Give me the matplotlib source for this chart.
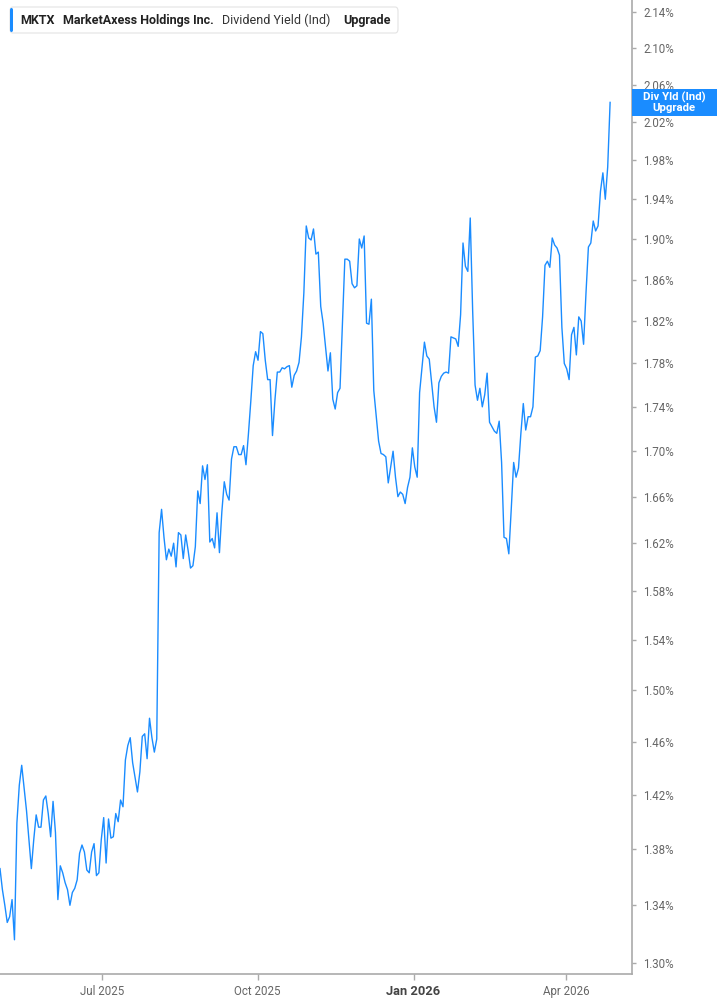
import matplotlib
matplotlib.use("Agg")
import matplotlib.pyplot as plt
import matplotlib.dates as mdates
from matplotlib.ticker import FixedLocator, FuncFormatter, NullLocator
from matplotlib.patches import Rectangle, FancyBboxPatch
from matplotlib.transforms import IdentityTransform
import pandas as pd

# ---------------- data ----------------
start_date = "2025-05-02"
end_date = "2026-04-27"
yield_pct = [
    1.366, 1.351, 1.340, 1.328, 1.332, 1.344, 1.316, 1.399, 1.427, 1.442,
    1.425, 1.408, 1.387, 1.366, 1.387, 1.405, 1.396, 1.396, 1.416, 1.419,
    1.406, 1.389, 1.415, 1.392, 1.344, 1.368, 1.363, 1.356, 1.351, 1.340,
    1.349, 1.352, 1.358, 1.377, 1.383, 1.378, 1.365, 1.363, 1.378, 1.384,
    1.361, 1.363, 1.387, 1.403, 1.370, 1.402, 1.388, 1.389, 1.406, 1.400,
    1.416, 1.411, 1.446, 1.457, 1.463, 1.444, 1.433, 1.422, 1.437, 1.464,
    1.466, 1.447, 1.478, 1.463, 1.452, 1.462, 1.629, 1.649, 1.625, 1.606,
    1.615, 1.609, 1.620, 1.600, 1.629, 1.627, 1.607, 1.627, 1.614, 1.599,
    1.601, 1.617, 1.665, 1.654, 1.687, 1.675, 1.688, 1.621, 1.624, 1.616,
    1.646, 1.612, 1.647, 1.673, 1.662, 1.657, 1.693, 1.704, 1.704, 1.697,
    1.697, 1.705, 1.688, 1.715, 1.745, 1.778, 1.791, 1.783, 1.810, 1.808,
    1.783, 1.765, 1.765, 1.714, 1.746, 1.772, 1.772, 1.776, 1.775, 1.777,
    1.778, 1.758, 1.769, 1.773, 1.781, 1.805, 1.847, 1.913, 1.901, 1.899,
    1.910, 1.885, 1.887, 1.834, 1.818, 1.795, 1.773, 1.790, 1.747, 1.738,
    1.753, 1.757, 1.818, 1.880, 1.880, 1.878, 1.856, 1.852, 1.854, 1.900,
    1.891, 1.903, 1.818, 1.817, 1.841, 1.755, 1.732, 1.709, 1.698, 1.697,
    1.695, 1.672, 1.686, 1.700, 1.677, 1.660, 1.664, 1.662, 1.654, 1.668,
    1.677, 1.703, 1.686, 1.677, 1.753, 1.776, 1.800, 1.787, 1.784, 1.762,
    1.740, 1.726, 1.762, 1.768, 1.771, 1.772, 1.771, 1.805, 1.804, 1.803,
    1.796, 1.826, 1.896, 1.873, 1.868, 1.921, 1.830, 1.760, 1.746, 1.757,
    1.740, 1.751, 1.771, 1.726, 1.722, 1.718, 1.716, 1.727, 1.690, 1.625,
    1.624, 1.611, 1.649, 1.690, 1.677, 1.685, 1.716, 1.743, 1.719, 1.731,
    1.731, 1.740, 1.786, 1.787, 1.792, 1.824, 1.874, 1.878, 1.872, 1.901,
    1.894, 1.891, 1.884, 1.814, 1.780, 1.775, 1.765, 1.807, 1.814, 1.788,
    1.824, 1.820, 1.798, 1.847, 1.892, 1.896, 1.918, 1.908, 1.913, 1.948,
    1.967, 1.940, 1.973, 2.041,
]
y_ticks = [1.30, 1.34, 1.38, 1.42, 1.46, 1.50, 1.54, 1.58, 1.62, 1.66, 1.70,
           1.74, 1.78, 1.82, 1.86, 1.90, 1.94, 1.98, 2.02, 2.06, 2.10, 2.14]
x_tick_dates = ["2025-07-01", "2025-10-01", "2026-01-01", "2026-04-01"]
x_tick_labels = ["Jul 2025", "Oct 2025", "Jan 2026", "Apr 2026"]
ticker_sym = "MKTX"
company = "MarketAxess Holdings Inc."
metric = "Dividend Yield (Ind)"
upgrade = "Upgrade"
end_label = "Div Yld (Ind)"

dates = pd.date_range(start_date, end_date, periods=len(yield_pct))

# ---------------- style ----------------
plt.rcParams["font.family"] = ["Roboto", "DejaVu Sans"]
LINE = "#1a8cff"
GRAY = "#666666"
SPINE = "#aaaaaa"
W, H = 717, 1005

fig = plt.figure(figsize=(W / 100, H / 100), dpi=100)
fig.patch.set_facecolor("white")
ax = fig.add_axes([0, 31 / H, 632 / W, 974 / H])

ax.plot(dates, yield_pct, color=LINE, lw=1.0, solid_joinstyle="round")

ax.set_yscale("log")
ax.set_ylim(1.2926, 2.1535)
ax.set_xlim(pd.Timestamp("2025-05-02"), pd.Timestamp("2026-05-09 22:00"))

ax.yaxis.set_major_locator(FixedLocator(y_ticks))
ax.yaxis.set_minor_locator(NullLocator())
ax.yaxis.set_major_formatter(FuncFormatter(lambda v, p: f"{v:.2f}%"))
ax.yaxis.tick_right()
ax.tick_params(axis="y", which="major", direction="out", length=3, width=1,
               color=SPINE, labelsize=8.3, labelcolor=GRAY, pad=5)

ax.xaxis.set_major_locator(FixedLocator(mdates.date2num(pd.to_datetime(x_tick_dates))))
ax.xaxis.set_minor_locator(NullLocator())
ax.set_xticklabels(x_tick_labels)
ax.tick_params(axis="x", which="major", direction="out", length=4, width=1,
               color=SPINE, labelsize=8.3, labelcolor=GRAY, pad=4)
for lab in ax.get_xticklabels():
    if lab.get_text().startswith("Jan"):
        lab.set_fontweight("bold")
        lab.set_fontsize(9.3)
        lab.set_color("#444444")

for s in ["top", "left"]:
    ax.spines[s].set_visible(False)
for s in ["right", "bottom"]:
    ax.spines[s].set_color(SPINE)
    ax.spines[s].set_linewidth(1.2)

# ---------------- header box ----------------
def fx(px):
    return px / W

def fy(py):
    return 1 - py / H

hdr = FancyBboxPatch((fx(10), fy(33)), fx(388), 26 / H,
                     boxstyle="round,pad=0,rounding_size=0.004",
                     transform=fig.transFigure, fc="white", ec="#e3e3e3", lw=0.8)
fig.add_artist(hdr)
bar = FancyBboxPatch((fx(10), fy(32)), fx(3), 24 / H,
                     boxstyle="round,pad=0,rounding_size=0.002",
                     transform=fig.transFigure, fc=LINE, ec="none")
fig.add_artist(bar)
ty = fy(20.5)
fig.text(fx(20), ty, ticker_sym, fontsize=9, fontweight="bold", color="#222222", va="center")
fig.text(fx(63), ty, company, fontsize=9, fontweight="bold", color="#222222", va="center")
fig.text(fx(222), ty, metric, fontsize=9, color="#333333", va="center")
fig.text(fx(343), ty, upgrade, fontsize=9, fontweight="bold", color="#222222", va="center")

# ---------------- last value label ----------------
xd, yd = ax.transData.transform((mdates.date2num(dates[-1]), yield_pct[-1]))
rect = Rectangle((632, yd - 13.5), 90, 27, transform=IdentityTransform(),
                 fc=LINE, ec="none")
fig.add_artist(rect)
fig.text(674, yd + 5.5, end_label, transform=IdentityTransform(), ha="center",
         va="center", color="white", fontsize=8.2, fontweight="bold")
fig.text(674, yd - 5.5, upgrade, transform=IdentityTransform(), ha="center",
         va="center", color="white", fontsize=8.2, fontweight="bold")

fig.savefig("out.png", dpi=100, facecolor="white")
